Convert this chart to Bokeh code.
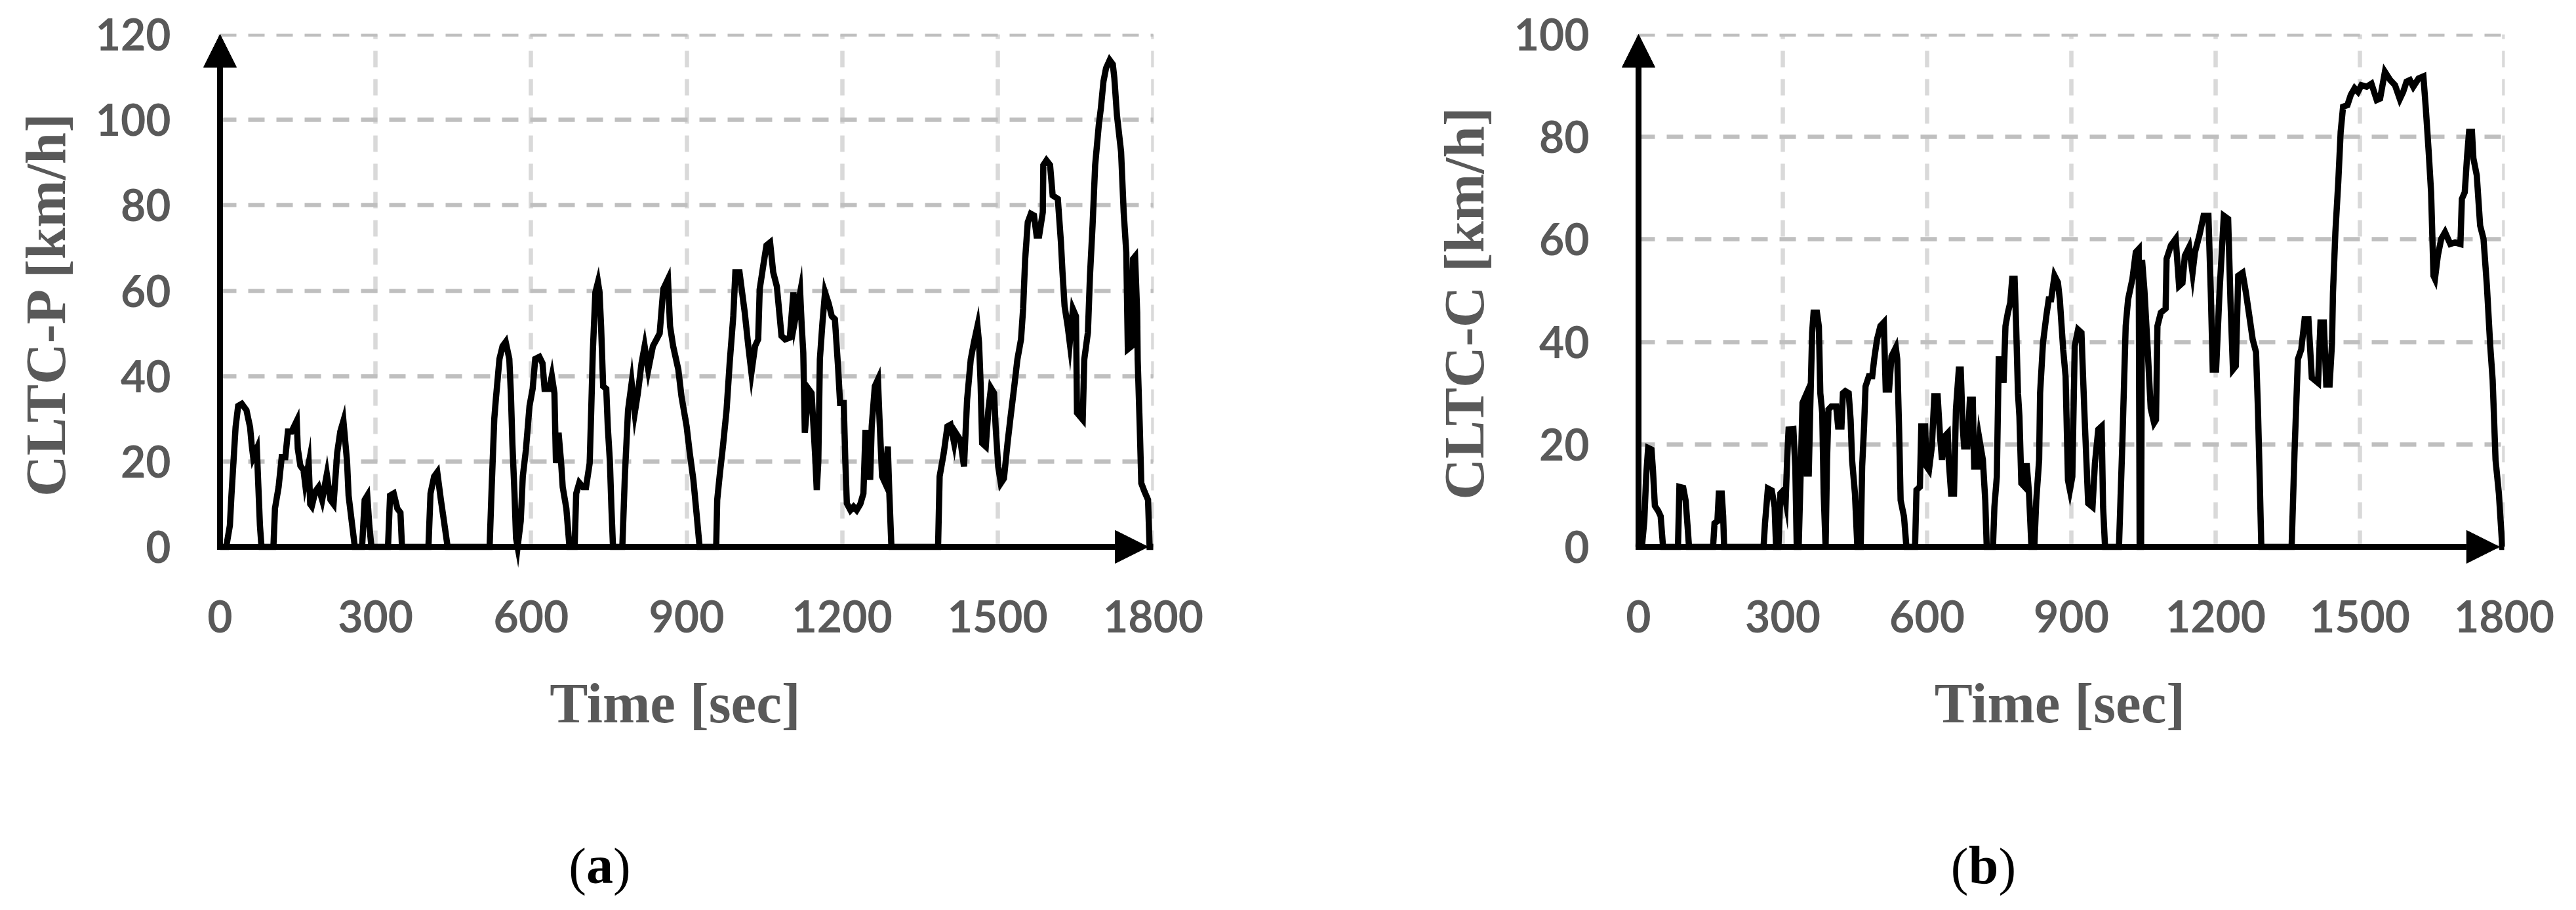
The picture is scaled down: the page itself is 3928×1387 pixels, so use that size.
from bokeh.plotting import figure
from bokeh.layouts import row, column
from bokeh.models import Range1d, FixedTicker, Arrow, NormalHead, Label
from bokeh.embed import file_html
from bokeh.resources import INLINE

# ---------------- data ----------------
x_ticks = [0, 300, 600, 900, 1200, 1500, 1800]
y_ticks_p = [0, 20, 40, 60, 80, 100, 120]
y_ticks_c = [0, 20, 40, 60, 80, 100]
x_title = "Time [sec]"
y_title_p = "CLTC-P [km/h]"
y_title_c = "CLTC-C [km/h]"
caption_p = "a"
caption_c = "b"

time_p = [0, 12, 19, 22, 26, 30, 35, 42, 51, 58, 61, 64, 71, 74, 77, 80, 103, 106, 113, 119,
          126, 131, 138, 148, 150, 155, 161, 164, 171, 174, 177, 184, 190, 197, 206, 213, 219, 226, 232, 238,
          245, 248, 255, 260, 274, 279, 284, 288, 292, 324, 328, 335, 342, 348, 351, 402, 406, 413, 419, 426,
          432, 439, 520, 524, 529, 532, 539, 545, 551, 558, 561, 564, 568, 571, 574, 580, 584, 590, 597, 603,
          608, 616, 622, 626, 635, 640, 645, 648, 653, 658, 661, 668, 674, 684, 687, 693, 700, 706, 713, 716,
          719, 724, 729, 732, 735, 739, 745, 748, 752, 755, 758, 776, 781, 787, 794, 800, 806, 813, 819, 826,
          835, 842, 848, 855, 864, 868, 874, 884, 890, 900, 906, 913, 919, 925, 957, 959, 964, 970, 977, 983,
          990, 994, 1002, 1007, 1012, 1019, 1025, 1032, 1038, 1041, 1048, 1054, 1061, 1067, 1074, 1080, 1083, 1090, 1099, 1106,
          1109, 1119, 1122, 1125, 1128, 1135, 1141, 1148, 1151, 1154, 1157, 1162, 1167, 1174, 1180, 1186, 1192, 1196, 1203, 1206,
          1209, 1216, 1222, 1228, 1235, 1241, 1245, 1251, 1254, 1257, 1263, 1269, 1272, 1277, 1283, 1288, 1291, 1295, 1385, 1388,
          1396, 1403, 1409, 1416, 1419, 1428, 1435, 1441, 1448, 1454, 1461, 1464, 1467, 1470, 1477, 1482, 1487, 1493, 1496, 1501,
          1506, 1512, 1519, 1525, 1532, 1538, 1545, 1549, 1553, 1558, 1564, 1570, 1575, 1580, 1587, 1588, 1594, 1601, 1606, 1616,
          1622, 1625, 1629, 1635, 1639, 1645, 1651, 1653, 1664, 1667, 1674, 1678, 1683, 1688, 1695, 1699, 1704, 1709, 1716, 1722,
          1725, 1730, 1738, 1743, 1748, 1751, 1758, 1761, 1765, 1769, 1770, 1774, 1777, 1783, 1790, 1793, 1800]
speed_p = [0, 0, 5, 12, 20, 28, 33, 33.5, 32, 28, 24, 21, 23, 14, 5, 0, 0, 9, 14, 21,
           21, 27, 27, 29.5, 23, 19, 18, 15, 19.5, 10, 9.5, 13, 14, 11, 17, 11, 10, 22, 27, 29.5,
           20, 12, 5, 0, 0, 11, 12, 5, 0, 0, 12, 12.5, 9, 8, 0, 0, 12.5, 16.5, 17.5, 11,
           6, 0, 0, 14, 30, 34.5, 44, 47, 48, 44, 36, 24, 12.5, 2, 0, 6, 16.5, 22.7, 33, 37,
           44, 44.5, 43, 37, 37, 40, 36, 19.6, 26.7, 19.6, 14, 9, 0, 0, 12.5, 15, 14, 14, 19.6, 32,
           45.5, 59.6, 62, 59.6, 51.7, 37.6, 37, 28, 20, 9, 0, 0, 17, 32, 38.4, 31.4, 36, 43, 47, 41.5,
           47, 48.6, 50, 60.4, 62.7, 51.7, 47, 41.5, 35.3, 28.2, 22, 15.7, 8, 0, 0, 11, 17, 23.5, 32, 43,
           54, 64.3, 64.3, 59.6, 55, 47, 40.8, 47, 48.6, 60.4, 66, 70.6, 71.3, 64.3, 61, 53.3, 49.4, 48.6, 49, 59.6,
           53, 59.6, 51.7, 45.5, 26.7, 37, 36, 21.2, 13.3, 20, 43.9, 52.5, 59.6, 57, 54, 53.3, 42.3, 33.7, 33.7, 20.4,
           10.2, 8.6, 9.4, 8.6, 10, 12.5, 27.4, 20.4, 15.7, 28.2, 37.6, 39.2, 30, 16.5, 14.9, 23.5, 12.5, 0, 0, 16.5,
           22, 28.2, 28.6, 24.3, 26.7, 25, 18.8, 34.5, 43.9, 47.8, 51.7, 47.8, 38.4, 24.3, 23.5, 32, 37.2, 36, 28.2, 18.8,
           14.9, 16, 24.3, 30.6, 37.6, 43.9, 48.6, 55.7, 67.4, 76, 78, 77.6, 72.9, 72.9, 78.4, 89.4, 90.5, 89.4, 82.3, 81.5,
           71.3, 64.3, 56.4, 51.7, 47.8, 55.7, 54, 31.4, 29.8, 43.9, 50.2, 63.5, 75.3, 89.4, 98.8, 102.7, 109, 112.1, 114, 113,
           109.8, 101.1, 92.5, 78.4, 69, 46.3, 47, 67.4, 68, 54.9, 43.9, 28.2, 14.9, 13, 11, 0, 0]

time_c = [0, 3, 7, 12, 16, 20, 27, 30, 34, 41, 46, 51, 82, 85, 93, 98, 102, 105, 155, 158,
          164, 167, 173, 176, 178, 260, 263, 269, 277, 283, 286, 291, 295, 302, 306, 309, 312, 322, 326, 329,
          333, 336, 341, 347, 350, 354, 357, 361, 364, 371, 375, 378, 382, 385, 389, 392, 395, 401, 411, 415,
          422, 425, 430, 437, 441, 444, 450, 455, 462, 465, 469, 472, 479, 486, 490, 496, 503, 510, 514, 521,
          526, 535, 538, 542, 545, 552, 557, 575, 578, 585, 588, 596, 599, 604, 610, 615, 622, 627, 631, 636,
          643, 645, 650, 656, 660, 666, 670, 674, 677, 684, 689, 695, 698, 705, 709, 716, 721, 724, 737, 740,
          745, 749, 754, 759, 763, 768, 773, 777, 782, 785, 789, 792, 796, 803, 807, 812, 817, 823, 827, 833,
          835, 841, 848, 853, 858, 865, 872, 876, 883, 888, 893, 897, 902, 907, 914, 921, 924, 928, 935, 944,
          949, 956, 963, 966, 970, 999, 1006, 1013, 1018, 1027, 1034, 1040, 1042, 1045, 1047, 1052, 1058, 1065, 1072, 1076,
          1079, 1086, 1096, 1098, 1107, 1117, 1124, 1131, 1136, 1145, 1152, 1157, 1166, 1175, 1185, 1190, 1194, 1201, 1208, 1217,
          1226, 1231, 1236, 1242, 1247, 1256, 1263, 1270, 1277, 1284, 1288, 1291, 1295, 1358, 1364, 1371, 1378, 1385, 1393, 1400,
          1413, 1418, 1425, 1430, 1437, 1442, 1444, 1449, 1455, 1460, 1465, 1474, 1481, 1489, 1496, 1503, 1514, 1524, 1535, 1542,
          1552, 1563, 1573, 1583, 1590, 1597, 1604, 1611, 1622, 1632, 1637, 1643, 1648, 1651, 1653, 1656, 1662, 1669, 1677, 1688,
          1698, 1709, 1712, 1718, 1723, 1727, 1733, 1736, 1743, 1750, 1757, 1764, 1771, 1776, 1782, 1789, 1796, 1800]
speed_c = [0, 7, 0, 5, 14, 19.3, 19, 15, 8, 7, 6, 0, 0, 11.7, 11.5, 9, 4, 0, 0, 4.6,
           5, 10.4, 10.4, 6, 0, 0, 4.6, 11.4, 11, 7.8, 0, 0, 10.4, 11.1, 9, 17, 22.9, 23, 15.7, 0,
           0, 10.4, 28.1, 29.4, 14.3, 14.3, 26.8, 41.8, 45.7, 45.7, 43, 30, 26.1, 10.4, 0, 17, 26.8, 27.4, 27.4, 23.5,
           23.5, 30, 30.4, 30, 24.8, 17, 10.4, 0, 0, 15.7, 23.5, 31.3, 33.3, 33.3, 36.6, 40.5, 43.1, 43.8, 30.7, 30.7,
           37.2, 38.9, 36.6, 22.2, 9.1, 5.9, 0, 0, 11.1, 11.7, 23.5, 23.5, 15.7, 15, 19.6, 29.4, 29.4, 21.5, 17, 21.5,
           22.2, 17, 10.4, 10.4, 26.8, 34.6, 34.6, 23.5, 19.6, 19.6, 28.7, 28.7, 15.7, 15.7, 20.9, 17, 9, 0, 0, 7.8,
           13.7, 36.6, 36.6, 32, 43.1, 45.7, 47.7, 52.3, 52.3, 43.8, 30, 25.5, 12.4, 11.7, 16.3, 10.4, 0, 0, 9, 17,
           30, 39.8, 45.1, 48.3, 48.3, 52.9, 51.6, 48.3, 38.5, 33.3, 13, 11.1, 13.7, 39.2, 42.4, 41.8, 34, 24.2, 8.5, 7.8,
           16.3, 22.9, 23.5, 7.8, 0, 0, 20.2, 43.1, 48.3, 52.3, 57.5, 58.1, 0, 0, 56, 50, 39.8, 27, 24.2, 24.8,
           43.1, 45.7, 46.5, 56.2, 58.8, 60.1, 50.9, 51.5, 56.8, 58.5, 53.5, 57.5, 60.7, 64.6, 64.6, 49.6, 34.6, 34.6, 49.6, 64.6,
           64, 47.6, 34.6, 35.3, 52.9, 53.5, 49.6, 45.1, 40.5, 38, 26.8, 15.7, 0, 0, 18.3, 36.6, 38.5, 44.4, 44.4, 33,
           32, 43.8, 43.8, 31.7, 31.7, 39.8, 49.6, 61.4, 71.2, 81, 85.9, 86.2, 88.2, 89.5, 88.8, 90.1, 89.8, 90.4, 87.2, 87.5,
           92.7, 91.1, 90.1, 87.4, 88.8, 90.8, 91.1, 89.8, 91.4, 91.8, 85.6, 77.1, 69.2, 59.4, 52.9, 52.3, 56.8, 60.1, 61.4, 59.1,
           59.4, 59.1, 67.9, 69.2, 76.4, 81, 81, 75.8, 72.5, 62.7, 60.1, 51, 39.2, 32.6, 17, 10.4, 0, 0]

# ---------------- styling / layout ----------------
LABEL_GRAY = "#595959"
TICK_FONT = "Lato"
TITLE_FONT = "Liberation Serif"
FIG_W = 1956
TOP_H = 1160
CAP_H = 210
PAD_L = 36   # frame extends this far left of x = 0 (room for arrow head)
PAD_B = 40   # frame extends this far below y = 0


def make_panel(t, v, yticks, ytitle, fig_left_screen, zero_x, full_x, zero_y, full_y):
    ymax = yticks[-1]
    sx = (full_x - zero_x) / 1800.0
    sy = (zero_y - full_y) / float(ymax)
    frame_left = zero_x - PAD_L
    frame_right = full_x + 1
    frame_top = full_y - 1
    frame_bottom = zero_y + PAD_B
    fw = frame_right - frame_left
    fh = frame_bottom - frame_top
    left = frame_left - fig_left_screen
    top = frame_top - 8
    p = figure(width=FIG_W, height=TOP_H,
               frame_width=fw, frame_height=fh,
               min_border_left=left, min_border_right=FIG_W - left - fw,
               min_border_top=top, min_border_bottom=TOP_H - top - fh,
               x_range=Range1d(-PAD_L / sx, 1800 + 1 / sx),
               y_range=Range1d(-PAD_B / sy, ymax + 1 / sy),
               output_backend="svg", toolbar_location=None,
               background_fill_color="white", border_fill_color="white")
    p.outline_line_color = None

    p.xaxis.ticker = FixedTicker(ticks=x_ticks)
    p.yaxis.ticker = FixedTicker(ticks=yticks)
    for ax in (p.xaxis, p.yaxis):
        ax.axis_line_color = None
        ax.major_tick_line_color = None
        ax.minor_tick_line_color = None
        ax.major_tick_out = 0
        ax.major_tick_in = 0
        ax.major_label_text_font = TICK_FONT
        ax.major_label_text_font_style = "bold"
        ax.major_label_text_font_size = "66px"
        ax.major_label_text_color = LABEL_GRAY
        ax.axis_label_text_font = TITLE_FONT
        ax.axis_label_text_font_style = "bold"
        ax.axis_label_text_font_size = "87px"
        ax.axis_label_text_color = LABEL_GRAY
    p.xaxis.axis_label = x_title
    p.yaxis.axis_label = ytitle
    p.xaxis.major_label_standoff = 41
    p.yaxis.major_label_standoff = 39
    p.xaxis.axis_label_standoff = 56
    p.yaxis.axis_label_standoff = 25

    p.xgrid.grid_line_color = "#D9D9D9"
    p.ygrid.grid_line_color = "#BFBFBF"
    for g in (p.xgrid, p.ygrid):
        g.grid_line_width = 6.5
        g.grid_line_dash = "25 18"
    try:
        p.xgrid.cross_bounds = (0, ymax)
        p.ygrid.cross_bounds = (0, 1800)
    except Exception:
        pass

    p.line(t, v, line_color="black", line_width=9.5, line_join="miter")

    # axes drawn as arrows
    p.add_layout(Arrow(end=NormalHead(size=50, fill_color="black", line_color="black", line_width=1),
                       x_start=0, y_start=-4.5 / sy, x_end=0, y_end=ymax,
                       line_color="black", line_width=9))
    p.add_layout(Arrow(end=NormalHead(size=50, fill_color="black", line_color="black", line_width=1),
                       x_start=-4.5 / sx, y_start=0, x_end=1790, y_end=0,
                       line_color="black", line_width=9))
    return p


def make_caption(letter, center_x, half_w):
    c = figure(width=FIG_W, height=CAP_H, x_range=Range1d(0, FIG_W), y_range=Range1d(0, CAP_H),
               x_axis_location=None, y_axis_location=None, min_border=0,
               output_backend="svg", toolbar_location=None,
               background_fill_color="white", border_fill_color="white")
    c.outline_line_color = None
    c.grid.visible = False
    mid = (8 + TOP_H + CAP_H) - 1329 + 1   # vertical centre of the caption, from the strip's bottom
    c.add_layout(Label(x=center_x, y=mid + 2, text=letter, text_align="center", text_baseline="middle",
                       text_font=TITLE_FONT, text_font_style="bold", text_font_size="82px",
                       text_color="black"))
    c.add_layout(Label(x=center_x - half_w, y=mid, text="(", text_align="right", text_baseline="middle",
                       text_font=TITLE_FONT, text_font_size="80px", text_color="black"))
    c.add_layout(Label(x=center_x + half_w, y=mid, text=")", text_align="left", text_baseline="middle",
                       text_font=TITLE_FONT, text_font_size="80px", text_color="black"))
    return c


p1 = make_panel(time_p, speed_p, y_ticks_p, y_title_p, 8, 343, 1766, 841, 60)
p2 = make_panel(time_c, speed_c, y_ticks_c, y_title_c, 8 + FIG_W, 2506, 3826, 841, 60)
c1 = make_caption(caption_p, 922 - 8, 20.5)
c2 = make_caption(caption_c, 3032 - 8 - FIG_W, 23)

layout = column(row(p1, p2), row(c1, c2))
open("out.html", "w").write(file_html(layout, INLINE))
